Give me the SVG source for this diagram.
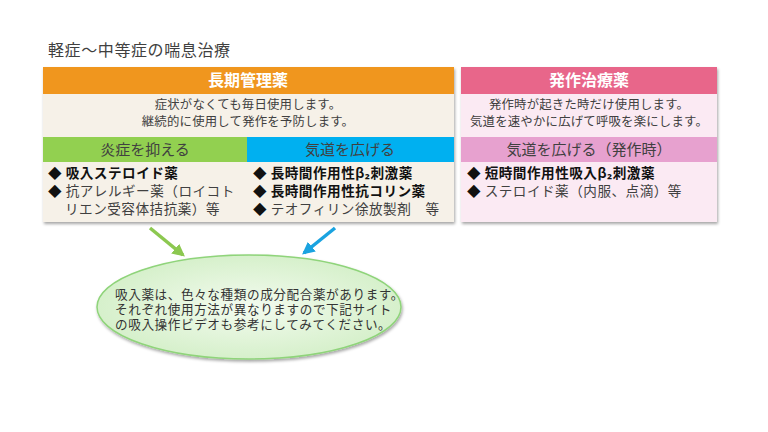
<svg xmlns="http://www.w3.org/2000/svg" width="768" height="432" viewBox="0 0 768 432">
<defs>
<filter id="sh" x="-5%" y="-5%" width="110%" height="115%"><feDropShadow dx="1" dy="2" stdDeviation="1.5" flood-color="#000" flood-opacity="0.35"/></filter>
<radialGradient id="eg" cx="50%" cy="50%" r="50%"><stop offset="0" stop-color="#F3FBEF"/><stop offset="1" stop-color="#D6F0CB"/></radialGradient>
<marker id="ag" viewBox="0 0 10 10" refX="8" refY="5" markerWidth="3.6" markerHeight="3.6" orient="auto"><path d="M0,0 L10,5 L0,10 z" fill="#8CC850"/></marker>
<marker id="ab" viewBox="0 0 10 10" refX="8" refY="5" markerWidth="3.6" markerHeight="3.6" orient="auto"><path d="M0,0 L10,5 L0,10 z" fill="#1AA3E0"/></marker>
</defs>
<style>
text{font-family:"Noto Sans CJK JP","Noto Sans",sans-serif;}
.t{font-size:16px;fill:#404040;letter-spacing:0.6px;}
.hd{font-size:16px;fill:#fff;font-weight:bold;text-anchor:middle;}
.body{font-size:12.4px;fill:#404040;text-anchor:middle;letter-spacing:0.2px;}
.sub{font-size:15px;fill:#404040;text-anchor:middle;}
.li{font-size:13.6px;fill:#404040;letter-spacing:0.5px;}
.b{font-weight:bold;fill:#111;}
.el{font-size:12.6px;fill:#333;letter-spacing:0.6px;}
</style>
<rect width="768" height="432" fill="#fff"/>
<text class="t" x="48" y="56">軽症〜中等症の喘息治療</text>
<g id="long-term">
<rect x="43" y="67" width="411" height="155" fill="#F6F1E8" filter="url(#sh)"/>
<rect x="43" y="67" width="411" height="27" fill="#F0961E"/>
<text class="hd" x="248" y="86">長期管理薬</text>
<text class="body" x="248" y="109">症状がなくても毎日使用します。</text>
<text class="body" x="248" y="126">継続的に使用して発作を予防します。</text>
</g>
<g id="anti-inflammatory">
<rect x="43" y="137" width="204" height="25" fill="#92D050"/>
<text class="sub" x="145" y="155">炎症を抑える</text>
<text class="li b" x="48" y="178">◆ 吸入ステロイド薬</text>
<text class="li" x="48" y="196"><tspan fill="#111">◆</tspan> 抗アレルギー薬（ロイコト</text>
<text class="li" x="65" y="214">リエン受容体拮抗薬）等</text>
</g>
<g id="bronchodilator">
<rect x="247" y="137" width="207" height="25" fill="#00B0F0"/>
<text class="sub" x="350" y="155">気道を広げる</text>
<text class="li b" x="253" y="178">◆ 長時間作用性β₂刺激薬</text>
<text class="li b" x="253" y="196">◆ 長時間作用性抗コリン薬</text>
<text class="li" x="253" y="214"><tspan fill="#111">◆</tspan> テオフィリン徐放製剤　等</text>
</g>
<g id="reliever">
<rect x="461" y="67" width="256" height="155" fill="#FBEAF3" filter="url(#sh)"/>
<rect x="461" y="67" width="256" height="27" fill="#E8668A"/>
<text class="hd" x="589" y="86">発作治療薬</text>
<text class="body" x="589" y="109">発作時が起きた時だけ使用します。</text>
<text class="body" x="589" y="126">気道を速やかに広げて呼吸を楽にします。</text>
<rect x="461" y="137" width="256" height="25" fill="#E7A1CF"/>
<text class="sub" x="589" y="155">気道を広げる（発作時）</text>
<text class="li b" x="467" y="178">◆ 短時間作用性吸入β₂刺激薬</text>
<text class="li" x="467" y="196"><tspan fill="#111">◆</tspan> ステロイド薬（内服、点滴）等</text>
</g>
<g id="connectors">
<line x1="150" y1="228" x2="183" y2="255" stroke="#8CC850" stroke-width="3.5" marker-end="url(#ag)"/>
<line x1="335" y1="228" x2="304" y2="253" stroke="#1AA3E0" stroke-width="3.5" marker-end="url(#ab)"/>
</g>
<g id="note">
<ellipse cx="249" cy="307" rx="152" ry="52" fill="url(#eg)" stroke="#8FD47A" stroke-width="1.5" filter="url(#sh)"/>
<text class="el" x="115" y="299">吸入薬は、色々な種類の成分配合薬があります。</text>
<text class="el" x="115" y="314">それぞれ使用方法が異なりますので下記サイト</text>
<text class="el" x="115" y="329">の吸入操作ビデオも参考にしてみてください。</text>
</g>
</svg>
